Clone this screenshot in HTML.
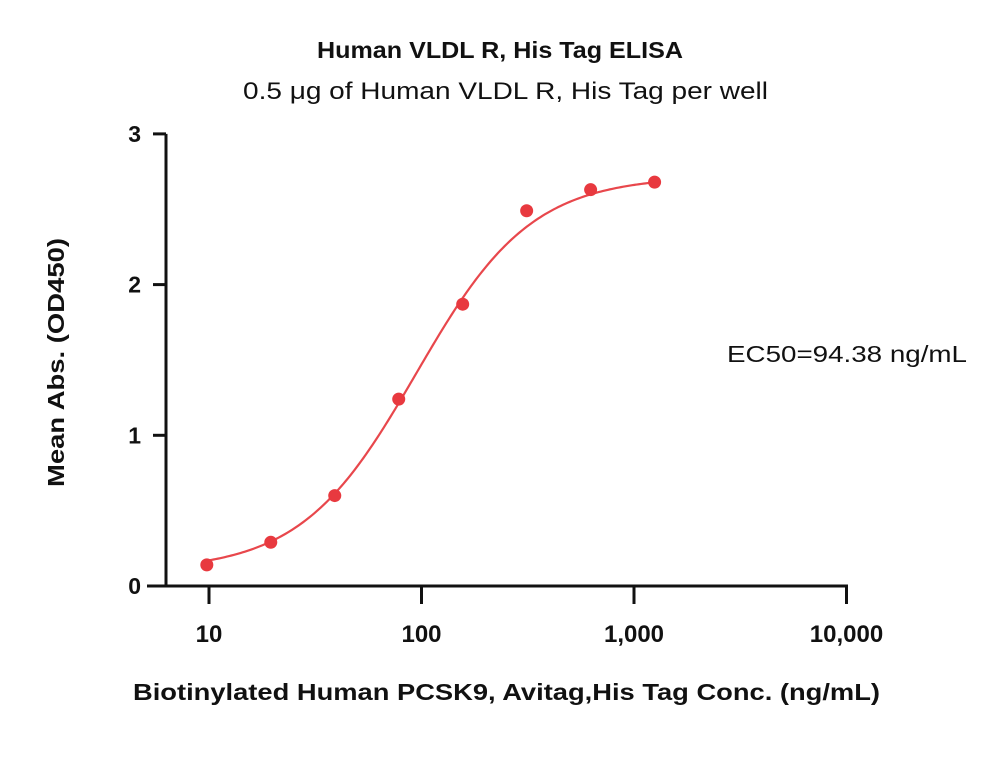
<!DOCTYPE html>
<html><head><meta charset="utf-8"><style>
body{margin:0;background:#fff;}
svg text{font-family:"Liberation Sans","DejaVu Sans",sans-serif;}
</style></head><body>
<svg id="chart" width="1000" height="779" viewBox="0 0 1000 779" xmlns="http://www.w3.org/2000/svg">
<text x="317" y="58" font-size="23" font-weight="bold" fill="#111" textLength="366" lengthAdjust="spacingAndGlyphs">Human VLDL R, His Tag ELISA</text>
<text x="243" y="99" font-size="24" fill="#111" textLength="525" lengthAdjust="spacingAndGlyphs">0.5 μg of Human VLDL R, His Tag per well</text>
<text x="727" y="362" font-size="23" fill="#111" textLength="240" lengthAdjust="spacingAndGlyphs">EC50=94.38 ng/mL</text>
<text x="133" y="700" font-size="23" font-weight="bold" fill="#111" textLength="747" lengthAdjust="spacingAndGlyphs">Biotinylated Human PCSK9, Avitag,His Tag Conc. (ng/mL)</text>
<text transform="translate(64,487) rotate(-90)" font-size="23" font-weight="bold" fill="#111" textLength="249" lengthAdjust="spacingAndGlyphs">Mean Abs. (OD450)</text>
<g id="axes"></g>
<g id="marks"></g>
</svg>
<script>
const xValues=[9.766,19.53,39.06,78.13,156.25,312.5,625,1250];
const yValues=[0.14,0.29,0.60,1.24,1.87,2.49,2.63,2.68];
const xTickValues=[10,100,1000,10000];
const xTickLabels=["10","100","1,000","10,000"];
const yTickValues=[0,1,2,3];
const yTickLabels=["0","1","2","3"];
const fitBottom=0.1, fitTop=2.72, fitEC50=94.38, fitHill=1.6;

const NS="http://www.w3.org/2000/svg";
const X0=209, XDEC=212.5, Y0=586, YU=150.7;
function sx(v){return X0+(Math.log10(v)-1)*XDEC;}
function sy(v){return Y0-v*YU;}
function mk(t,a,p){const e=document.createElementNS(NS,t);for(const k in a)e.setAttribute(k,a[k]);p.appendChild(e);return e;}
const axes=document.getElementById('axes'), marks=document.getElementById('marks');

let yl=mk('line',{x1:166,y1:sy(3),x2:166,y2:Y0+1.5,stroke:'#111','stroke-width':3},axes);


let xl=mk('line',{x1:147,y1:Y0,x2:sx(10000)+1.5,y2:Y0,stroke:'#111','stroke-width':3},axes);



yTickValues.forEach((v,i)=>{
  const t=mk('line',{x1:153,y1:sy(v),x2:166,y2:sy(v),stroke:'#111','stroke-width':3},axes);
  
  
  const l=mk('text',{x:141,y:sy(v)+8,'text-anchor':'end','font-size':23,'font-weight':'bold',fill:'#111'},axes);
  l.textContent=yTickLabels[i];
  
  
});
xTickValues.forEach((v,i)=>{
  const t=mk('line',{x1:sx(v),y1:Y0,x2:sx(v),y2:Y0+18,stroke:'#111','stroke-width':3},axes);
  
  
  const l=mk('text',{x:sx(v),y:Y0+56,'text-anchor':'middle','font-size':24,'font-weight':'bold',fill:'#111'},axes);
  l.textContent=xTickLabels[i];
  
  
});

let d='';
const lo=Math.log10(xValues[0]), hi=Math.log10(xValues[xValues.length-1]);
for(let i=0;i<=200;i++){
  const lx=lo+(hi-lo)*i/200, x=Math.pow(10,lx);
  const y=fitBottom+(fitTop-fitBottom)/(1+Math.pow(fitEC50/x,fitHill));
  d+=(i?'L':'M')+sx(x).toFixed(2)+' '+sy(y).toFixed(2);
}
const fit=mk('path',{d:d,fill:'none',stroke:'#e8474c','stroke-width':2.2},marks);



xValues.forEach((x,i)=>{
  const c=mk('circle',{cx:sx(x),cy:sy(yValues[i]),r:6.5,fill:'#e8393f'},marks);
  
  
});
</script>
</body></html>
